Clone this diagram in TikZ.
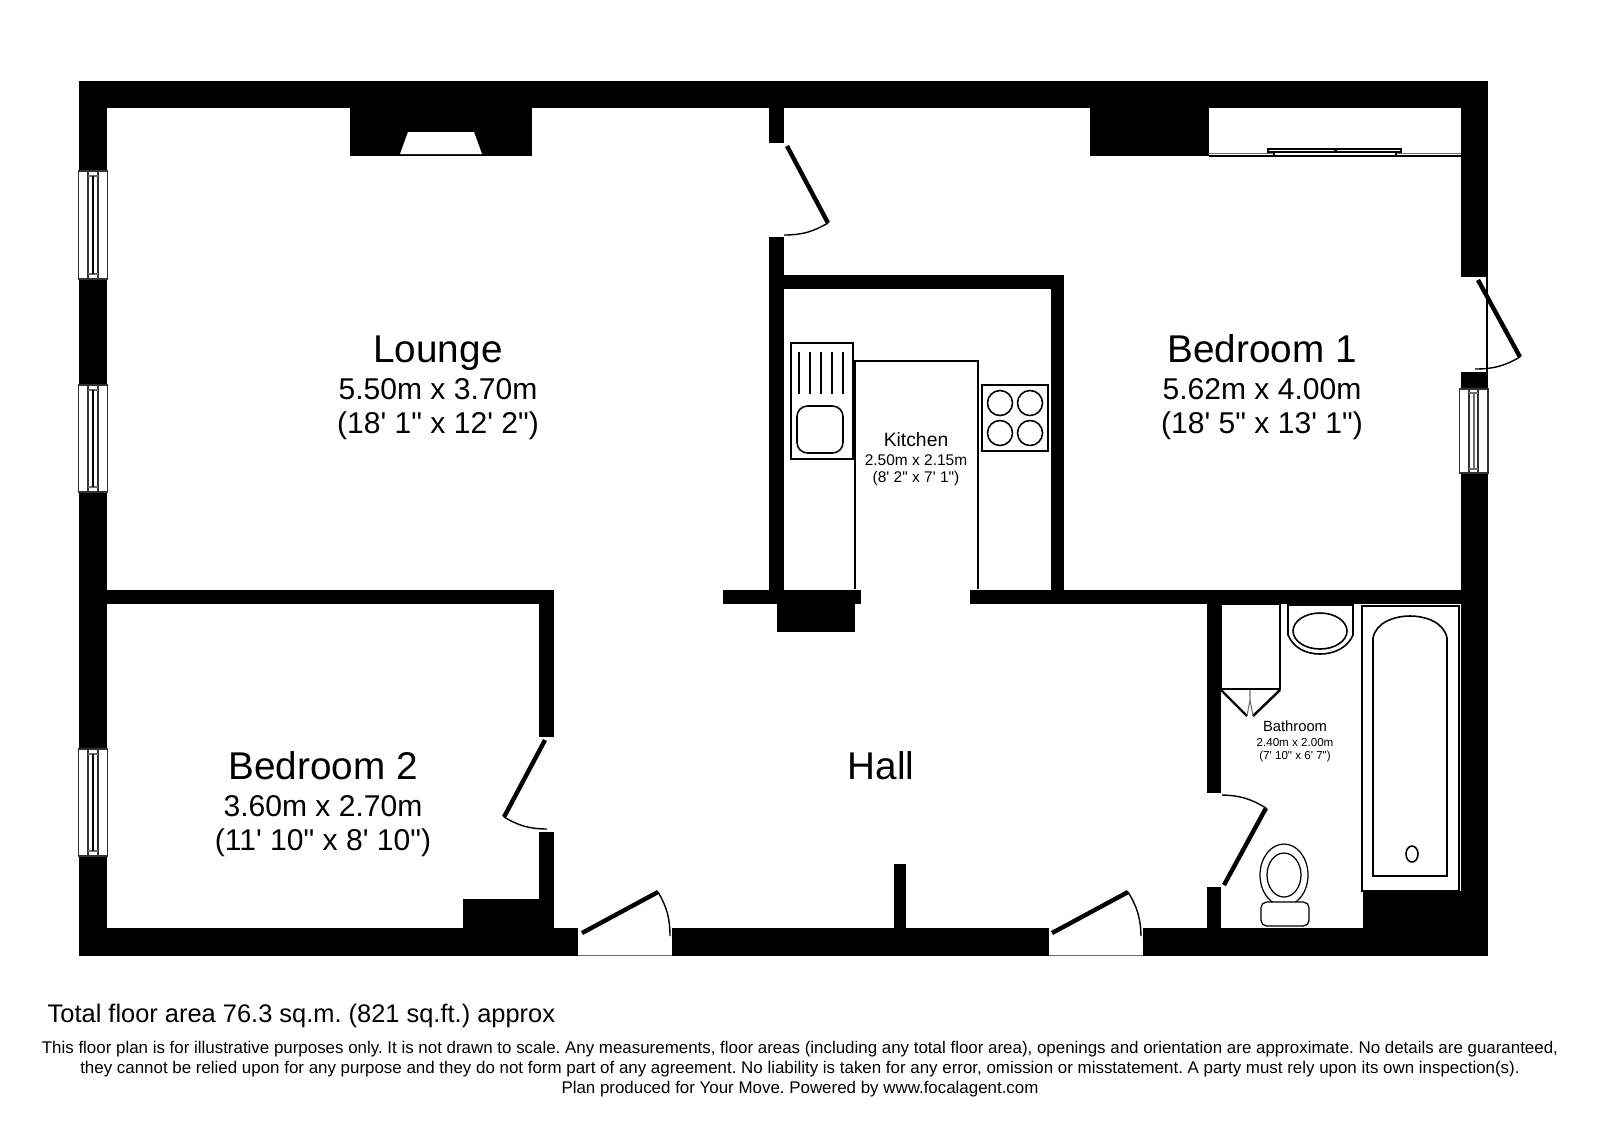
\documentclass[tikz,border=0pt]{standalone}
\usepackage{fontspec}
\usepackage{tikz}
\newfontfamily\planfont{Liberation Sans}
\definecolor{hairgrey}{RGB}{110, 110, 110}
\definecolor{panegrey}{RGB}{50, 50, 50}
\tikzset{
    wall/.style={fill=black, draw=none},
    opening/.style={fill=white, draw=none},
    fixture/.style={draw=black, fill=white, line width=0.45pt},
    fixtureLow/.style={draw=black, line width=0.35pt},
    pane/.style={draw=panegrey, fill=white, line width=0.35pt},
    hair/.style={draw=hairgrey, line width=0.3pt},
    leaf/.style={draw=black, line width=1.25pt},
    swing/.style={draw=black, line width=0.4pt},
    roomBig/.style={font=\planfont\frenchspacing\fontsize{11}{13}\selectfont, inner sep=0pt},
    sizeBig/.style={font=\planfont\frenchspacing\fontsize{8.55}{10}\selectfont, inner sep=0pt},
    roomMid/.style={font=\planfont\fontsize{5.5}{7}\selectfont, inner sep=0pt},
    sizeMid/.style={font=\planfont\fontsize{4.4}{6}\selectfont, inner sep=0pt},
    roomLow/.style={font=\planfont\fontsize{4.2}{6}\selectfont, inner sep=0pt},
    sizeLow/.style={font=\planfont\fontsize{3.3}{5}\selectfont, inner sep=0pt},
    areaText/.style={font=\planfont\frenchspacing\fontsize{7.23}{9}\selectfont, inner sep=0pt, anchor=west},
    smallPrint/.style={font=\planfont\frenchspacing\fontsize{4.81}{6}\selectfont, inner sep=0pt},
}

\begin{document}
\begin{tikzpicture}[x=0.01cm, y=-0.01cm]
    \useasboundingbox (0,0) rectangle (1600,1120);

    \fill[wall] (79,81) rectangle (1488,108);
    \fill[wall] (79,81) rectangle (107,956);
    \fill[wall] (79,928) rectangle (1488,956);
    \fill[wall] (1461,81) rectangle (1488,956);
    \fill[wall] (350,100) rectangle (532,156);
    \fill[wall] (1090,100) rectangle (1209,156);
    \fill[wall] (769,100) rectangle (784,143);
    \fill[wall] (769,237) rectangle (784,600);
    \fill[wall] (769,275) rectangle (1064,289);
    \fill[wall] (1051,275) rectangle (1064,600);
    \fill[wall] (723,590) rectangle (861,604);
    \fill[wall] (777,600) rectangle (855,632);
    \fill[wall] (970,590) rectangle (1470,604);
    \fill[wall] (100,590) rectangle (554,604);
    \fill[wall] (539,600) rectangle (554,737);
    \fill[wall] (539,832) rectangle (554,935);
    \fill[wall] (463,899) rectangle (545,935);
    \fill[wall] (894,864) rectangle (906,935);
    \fill[wall] (1207,600) rectangle (1221,793);
    \fill[wall] (1207,887) rectangle (1221,935);
    \fill[wall] (1363,891) rectangle (1470,935);

    \fill[opening] (400,154) -- (408,132) -- (474,132) -- (482,154) -- cycle;
    \fill[opening] (1460,277) rectangle (1490,372);
    \draw[draw=black, line width=0.45pt] (1487,277) -- (1487,372);
    \fill[opening] (578,928) rectangle (672,957);
    \draw[hair] (578,955) -- (672,955);
    \fill[opening] (1049,928) rectangle (1143,957);
    \draw[hair] (1049,955) -- (1143,955);

    \foreach \wy/\wz in {171/279, 385/492, 749/856} {
        \draw[pane] (78.5,\wy) rectangle (107.5,\wz);
        \draw[pane] (88,\wy) rectangle (98,\wz);
        \draw[hair] (88,\wy+5) -- (98,\wy+5);
        \draw[hair] (88,\wz-5) -- (98,\wz-5);
        \draw[fixtureLow] (93,\wy+5) -- (93,\wz-5);
    }
    \draw[pane] (1459.5,389) rectangle (1488,473);
    \draw[pane] (1469,389) rectangle (1478,473);
    \draw[hair] (1469,393) -- (1478,393);
    \draw[hair] (1469,469) -- (1478,469);
    \draw[hair, line width=0.45pt] (1474,393) -- (1474,469);

    \draw[hair, line width=0.45pt] (1209,153.5) -- (1461,153.5);
    \draw[fixture, line width=0.5pt] (1209,156) -- (1461,156);
    \draw[fixture] (1268,149) rectangle (1335,152);
    \draw[fixture] (1336,149) rectangle (1401,152);
    \draw[fixture] (1274,152) rectangle (1396,156);

    \draw[leaf] (787,146) -- (828,223);
    \draw[swing] (828,223) to[bend left=15] (784,235);
    \draw[leaf] (1478,280) -- (1520,357);
    \draw[swing] (1520,357) to[bend left=15] (1475,369);
    \draw[leaf] (545,740) -- (504,817);
    \draw[swing] (504,817) to[bend right=15] (547,829);
    \draw[leaf] (582,933) -- (658,892);
    \draw[swing] (658,892) to[bend left=15] (670,936);
    \draw[leaf] (1052,933) -- (1128,892);
    \draw[swing] (1128,892) to[bend left=15] (1141,936);
    \draw[leaf] (1224,885) -- (1266,808);
    \draw[swing] (1266,808) to[bend right=15] (1222,795);

    \draw[fixture, fill=none] (855,589) -- (855,361) -- (978,361) -- (978,589);
    \draw[fixture] (791,343) rectangle (853,459);
    \foreach \rx in {799,810,821,832,843} {
        \draw[fixture] (\rx,352) -- (\rx,394);
    }
    \draw[fixture, rounded corners=3pt] (797,406) rectangle (843,453);
    \draw[fixture] (982,385) rectangle (1048,451);
    \foreach \hx in {1000,1030} {
        \foreach \hy in {403,433} {
            \draw[fixture] (\hx,\hy) circle [radius=12.5];
        }
    }

    \draw[fixture] (1221,604) rectangle (1280,689);
    \draw[fixture, line width=0.7pt] (1221,690) -- (1247,716);
    \draw[fixture, line width=0.7pt] (1280,690) -- (1253,716);
    \draw[hair] (1250,690) -- (1250,700) -- (1247,716);
    \draw[hair] (1250,700) -- (1253,716);
    \draw[fixture] (1288,605) -- (1288,635) .. controls (1293,647) and (1305,654) .. (1320,654)
        .. controls (1335,654) and (1348,647) .. (1353,635) -- (1353,605) -- cycle;
    \draw[fixture] (1320,631) ellipse [x radius=27, y radius=18];
    \draw[fixture] (1362,606) rectangle (1459,891);
    \draw[fixture] (1373,876) -- (1373,638) .. controls (1376,622) and (1395,616) .. (1410,616)
        .. controls (1425,616) and (1444,622) .. (1447,638) -- (1447,876) -- cycle;
    \draw[fixture] (1412,854) ellipse [x radius=6, y radius=8];
    \draw[fixtureLow] (1284,875) ellipse [x radius=24, y radius=31];
    \draw[fixtureLow] (1284,875) ellipse [x radius=17, y radius=22];
    \draw[fixtureLow, fill=white, rounded corners=1.6pt] (1261,902) rectangle (1309,926);

    \node[roomBig] (lounge) at (438,353) {Lounge};
    \node[sizeBig] (loungeM) at (438,389) {5.50m x 3.70m};
    \node[sizeBig] (loungeF) at (438,426) {(18' 1" x 12' 2")};
    \node[roomBig] (bed1) at (1262,349) {Bedroom 1};
    \node[sizeBig] (bed1M) at (1262,389) {5.62m x 4.00m};
    \node[sizeBig] (bed1F) at (1262,426) {(18' 5" x 13' 1")};
    \node[roomBig] (bed2) at (323,766) {Bedroom 2};
    \node[sizeBig] (bed2M) at (323,806) {3.60m x 2.70m};
    \node[sizeBig] (bed2F) at (323,843) {(11' 10" x 8' 10")};
    \node[roomBig] (hall) at (881,766) {Hall};
    \node[roomMid] (kitchen) at (916,440) {Kitchen};
    \node[sizeMid] (kitchenM) at (916,460) {2.50m x 2.15m};
    \node[sizeMid] (kitchenF) at (916,478) {(8' 2" x 7' 1")};
    \node[roomLow] (bath) at (1295,726) {Bathroom};
    \node[sizeLow] (bathM) at (1295,742) {2.40m x 2.00m};
    \node[sizeLow] (bathF) at (1295,756) {(7' 10" x 6' 7")};

    \node[areaText] (area) at (47,1016) {Total floor area 76.3 sq.m. (821 sq.ft.) approx};
    \node[smallPrint] (print1) at (800,1049) {This floor plan is for illustrative purposes only. It is not drawn to scale. Any measurements, floor areas (including any total floor area), openings and orientation are approximate. No details are guaranteed,};
    \node[smallPrint] (print2) at (800,1069.5) {they cannot be relied upon for any purpose and they do not form part of any agreement. No liability is taken for any error, omission or misstatement. A party must rely upon its own inspection(s).};
    \node[smallPrint] (print3) at (800,1089) {Plan produced for Your Move. Powered by www.focalagent.com};
\end{tikzpicture}
\end{document}
